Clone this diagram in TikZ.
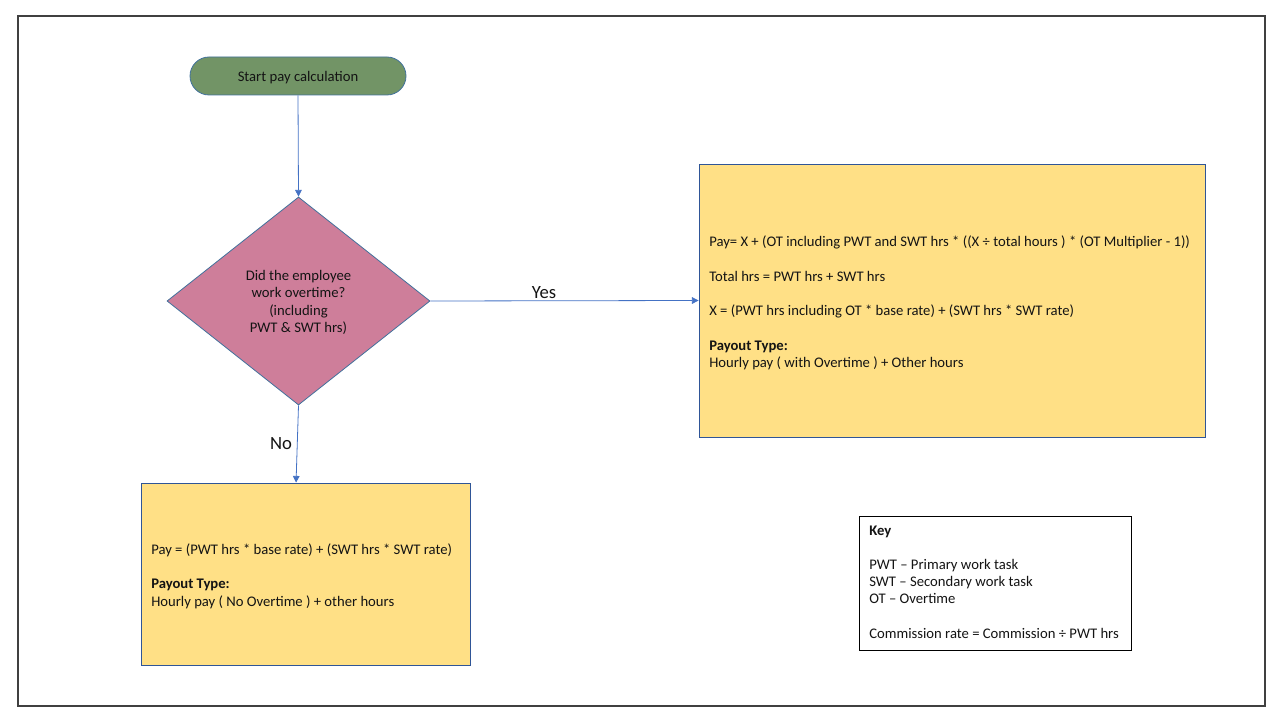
\documentclass[tikz,border=0pt]{standalone}
\usepackage{fontspec}
\setmainfont{Carlito}
\usetikzlibrary{shapes.geometric,arrows.meta}
\definecolor{termgreen}{RGB}{114,148,102}
\definecolor{diapink}{RGB}{206,126,154}
\definecolor{boxyellow}{RGB}{255,224,134}
\definecolor{shapeblue}{RGB}{65,113,156}
\definecolor{boxblue}{RGB}{47,85,151}
\definecolor{arrowblue}{RGB}{68,114,196}
\definecolor{txt}{RGB}{20,20,20}
\tikzset{
  basefont/.style={font=\fontsize{11}{13}\selectfont, text=txt},
  terminal/.style={basefont, draw=shapeblue, fill=termgreen, line width=0.6pt,
    rounded corners=14.25pt, minimum width=162pt, minimum height=28.5pt, inner sep=0pt,
    text height=11pt, text depth=2.3pt},
  decision/.style={diamond, draw=shapeblue, fill=diapink, line width=0.6pt,
    minimum width=197.25pt, minimum height=156pt, inner sep=0pt},
  dectextstyle/.style={font=\fontsize{11}{13.2}\selectfont, text=txt, align=center, inner sep=0pt},
  process/.style={draw=boxblue, fill=boxyellow, line width=0.6pt, inner sep=0pt},
  keybox/.style={draw=black, fill=white, line width=0.75pt, inner sep=0pt},
  boxtext/.style={basefont, anchor=north west, align=left, inner sep=0pt},
  flow/.style={draw=arrowblue, line width=0.6pt, -{Triangle[width=5pt,length=5pt]}},
  flowlabel/.style={font=\fontsize{14}{16}\selectfont, text=txt, inner sep=0pt},
  frame/.style={draw=black!75, line width=0.8pt}
}
\begin{document}
\begin{tikzpicture}[x=0.75pt, y=-0.75pt]
\useasboundingbox (0,0) rectangle (1280,720);
\node[frame, minimum width=935.25pt, minimum height=517.5pt, inner sep=0pt] (frame) at (641.5,361) {};

\node[terminal] (start) at (298,76) {Start pay calculation};

\node[decision] (dec) at (298.5,301) {};
\node[dectextstyle] (dectext) at (298.5,302.5) {Did the employee\\ work overtime?\\(including\\PWT \& SWT hrs)};

\node[process, minimum width=379.5pt, minimum height=204.75pt] (yesbox) at (952,300.5) {};
\node[boxtext] (yestext) at (709,235.5) {Pay= X + (OT including PWT and SWT hrs * ((X ÷ total hours ) * (OT Multiplier - 1))\\[13pt]
Total hrs = PWT hrs + SWT hrs\\[13pt]
X = (PWT hrs including OT * base rate) + (SWT hrs * SWT rate)\\[13pt]
\textbf{Payout Type:}\\
Hourly pay ( with Overtime ) + Other hours};

\node[process, minimum width=246.75pt, minimum height=136.5pt] (nobox) at (305.5,574) {};
\node[boxtext] (notext) at (151,543) {Pay = (PWT hrs * base rate) + (SWT hrs * SWT rate)\\[13pt]
\textbf{Payout Type:}\\
Hourly pay ( No Overtime ) + other hours};

\node[keybox, minimum width=204pt, minimum height=100.5pt] (key) at (995,583) {};
\node[boxtext] (keytext) at (869,525.5) {\textbf{Key}\\[12.5pt]
PWT – Primary work task\\
SWT – Secondary work task\\
OT – Overtime\\[13pt]
Commission rate = Commission ÷ PWT hrs};

\draw[flow] (start.south) -- (dec.north);
\draw[flow] (dec.east) -- (yesbox.west);
\draw[flow] (dec.south) -- ([xshift=-7.1pt]nobox.north);

\node[flowlabel] (yes) at (544,292.5) {Yes};
\node[flowlabel] (no) at (281,443.5) {No};
\end{tikzpicture}
\end{document}
